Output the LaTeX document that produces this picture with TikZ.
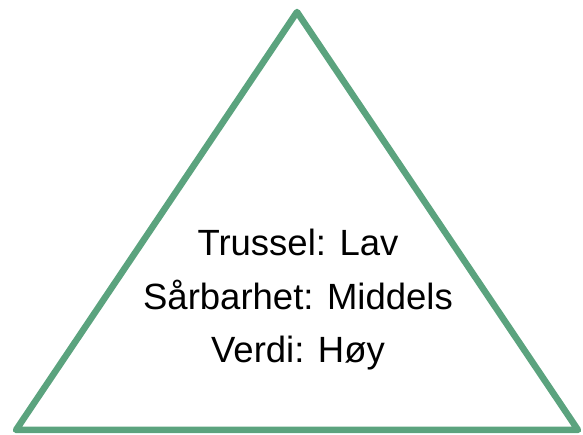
\documentclass[tikz,border=0pt]{standalone}
\usepackage{fontspec}
\setmainfont{Liberation Sans}
\definecolor{tri}{RGB}{91,163,126}
\begin{document}
\begin{tikzpicture}[x=1pt,y=1pt,
  tri/.style={draw=tri,line width=6.5pt,line join=round},
  lbl/.style={font=\fontsize{36.5}{44}\selectfont,inner sep=0pt,anchor=base}]
\useasboundingbox (0,0) rectangle (583,435);
\coordinate (a) at (297,423);
\coordinate (b) at (16,5);
\coordinate (c) at (578,5);
\draw[tri] (a) -- (b) -- (c) -- cycle;
\node[lbl] (t1) at (298,179) {Trussel: Lav};
\node[lbl] (t2) at (298,125.5) {Sårbarhet: Middels};
\node[lbl] (t3) at (298,72) {Verdi: Høy};
\end{tikzpicture}
\end{document}
